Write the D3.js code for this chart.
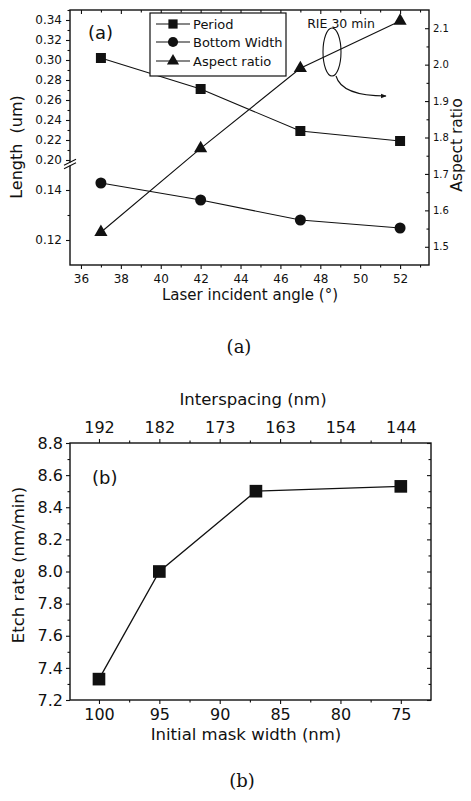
<!DOCTYPE html>
<html>
<head>
<meta charset="utf-8">
<script src="https://cdn.jsdelivr.net/npm/d3@7/dist/d3.min.js"></script>
<style>
  body { margin: 0; background: #fff; }
  svg text { font-family: "DejaVu Sans", sans-serif; fill: #111; }
  svg .caption { font-family: "DejaVu Serif", serif; }
</style>
</head>
<body>
<div id="chart"></div>
<script>
// panel (a): RIE 30 min
const angles = [37, 42, 47, 52];
const period = [0.302, 0.271, 0.229, 0.219];
const bottomWidth = [0.1428, 0.136, 0.128, 0.1248];
const aspectRatio = [1.54, 1.77, 1.99, 2.12];
const angleTicks = [36, 38, 40, 42, 44, 46, 48, 50, 52];
const lengthTicksUpper = [0.20, 0.22, 0.24, 0.26, 0.28, 0.30, 0.32, 0.34];
const lengthTicksLower = [0.12, 0.14];
const ratioTicks = [1.5, 1.6, 1.7, 1.8, 1.9, 2.0, 2.1];
const legendLabels = ["Period", "Bottom Width", "Aspect ratio"];

// panel (b)
const maskWidth = [100, 95, 87, 75];
const etchRate = [7.33, 8.0, 8.5, 8.53];
const maskTicks = [100, 95, 90, 85, 80, 75];
const spacingLabels = ["192", "182", "173", "163", "154", "144"];
const rateTicks = [7.2, 7.4, 7.6, 7.8, 8.0, 8.2, 8.4, 8.6, 8.8];

const W = 471, H = 801;
const ink = "#111";

const svg = d3.select("#chart").append("svg")
  .attr("width", W)
  .attr("height", H);

svg.append("rect").attr("width", W).attr("height", H).attr("fill", "#fff");

svg.append("defs").append("marker")
  .attr("id", "arrow")
  .attr("viewBox", "0 0 10 10")
  .attr("refX", 9).attr("refY", 5)
  .attr("markerWidth", 7).attr("markerHeight", 5)
  .attr("orient", "auto")
  .append("path").attr("d", "M0,1 L10,5 L0,9 Z").attr("fill", ink);

// midpoints between majors -> minor ticks
const mids = t => t.slice(1).map((d, i) => (d + t[i]) / 2);

// draw an axis, drop its domain path (frame drawn separately)
function drawAxis(axis, tx, ty, fontSize) {
  const g = svg.append("g")
    .attr("transform", "translate(" + tx + "," + ty + ")")
    .call(axis);
  g.select(".domain").remove();
  g.selectAll("line").attr("stroke", ink).attr("stroke-width", 1.1);
  g.selectAll("text")
    .style("font-size", fontSize + "px")
    .attr("fill", ink);
  return g;
}

// ---------------- panel (a) ----------------
const a = { left: 70, right: 429, top: 10, bottom: 265, breakY: 164 };

const xA = d3.scaleLinear().domain([35.45, 53.45]).range([a.left, a.right]);
const yUp = d3.scaleLinear().domain([0.196, 0.35]).range([a.breakY, a.top]);
const yLow = d3.scaleLinear().domain([0.11, 0.1496]).range([a.bottom, a.breakY + 2]);
const yLen = v => (v >= 0.18 ? yUp(v) : yLow(v));
const yRatio = d3.scaleLinear().domain([1.45, 2.15]).range([a.bottom, a.top]);

// bottom axis
drawAxis(d3.axisBottom(xA).tickValues(angleTicks).tickSize(4).tickPadding(5), 0, a.bottom, 12);
drawAxis(d3.axisBottom(xA).tickValues(mids(angleTicks).concat([53])).tickSize(2.5).tickFormat(""), 0, a.bottom, 12);
// top (inward ticks)
drawAxis(d3.axisTop(xA).tickValues(angleTicks).tickSize(-4).tickFormat(""), 0, a.top, 12);
drawAxis(d3.axisTop(xA).tickValues(mids(angleTicks).concat([53])).tickSize(-2.5).tickFormat(""), 0, a.top, 12);

// left broken axis
const f2 = d3.format(".2f");
drawAxis(d3.axisLeft(yUp).tickValues(lengthTicksUpper).tickSize(4).tickPadding(4).tickFormat(f2), a.left, 0, 12);
drawAxis(d3.axisLeft(yUp).tickValues(mids(lengthTicksUpper).concat([0.35])).tickSize(2.5).tickFormat(""), a.left, 0, 12);
drawAxis(d3.axisLeft(yLow).tickValues(lengthTicksLower).tickSize(4).tickPadding(4).tickFormat(f2), a.left, 0, 12);
drawAxis(d3.axisLeft(yLow).tickValues(mids(lengthTicksLower)).tickSize(2.5).tickFormat(""), a.left, 0, 12);

// right axis (inward ticks)
drawAxis(d3.axisRight(yRatio).tickValues(ratioTicks).tickSizeInner(-4).tickSizeOuter(0).tickPadding(4).tickFormat(d3.format(".1f")), a.right, 0, 10);
drawAxis(d3.axisRight(yRatio).tickValues(mids(ratioTicks)).tickSize(-2.5).tickFormat(""), a.right, 0, 10);

// frame
svg.append("rect")
  .attr("x", a.left).attr("y", a.top)
  .attr("width", a.right - a.left).attr("height", a.bottom - a.top)
  .attr("fill", "none").attr("stroke", ink).attr("stroke-width", 1.4);

// axis break
svg.append("rect").attr("x", a.left - 2).attr("y", a.breakY - 1.5).attr("width", 4).attr("height", 3).attr("fill", "#fff");
[-1.8, 1.8].forEach(o => {
  svg.append("line")
    .attr("x1", a.left - 6).attr("y1", a.breakY + o + 3)
    .attr("x2", a.left + 6).attr("y2", a.breakY + o - 3)
    .attr("stroke", ink).attr("stroke-width", 1.2);
});

// series
const lineA = (xs, ys, yf) => d3.line().x((d, i) => xA(xs[i])).y((d, i) => yf(ys[i]))(xs);
const seriesA = [
  { vals: period, y: yLen, sym: d3.symbolSquare, size: 100 },
  { vals: bottomWidth, y: yLen, sym: d3.symbolCircle, size: 95 },
  { vals: aspectRatio, y: yRatio, sym: d3.symbolTriangle, size: 75 }
];
seriesA.forEach(s => {
  svg.append("path")
    .attr("d", lineA(angles, s.vals, s.y))
    .attr("fill", "none").attr("stroke", ink).attr("stroke-width", 1.1);
  svg.selectAll(null)
    .data(s.vals)
    .enter()
    .append("path")
    .attr("transform", (d, i) => "translate(" + xA(angles[i]) + "," + s.y(d) + ")")
    .attr("d", d3.symbol().type(s.sym).size(s.size))
    .attr("fill", ink);
});

// legend
const lg = svg.append("g");
lg.append("rect")
  .attr("x", 150).attr("y", 13).attr("width", 136).attr("height", 63)
  .attr("fill", "#fff").attr("stroke", ink).attr("stroke-width", 1.2);
legendLabels.forEach((label, i) => {
  const ly = [24, 42, 61][i];
  lg.append("line").attr("x1", 156).attr("x2", 190).attr("y1", ly).attr("y2", ly)
    .attr("stroke", ink).attr("stroke-width", 1.1);
  lg.append("path")
    .attr("transform", "translate(173," + ly + ")")
    .attr("d", d3.symbol().type(seriesA[i].sym).size(seriesA[i].size * 0.85))
    .attr("fill", ink);
  lg.append("text")
    .attr("x", 193).attr("y", ly).attr("dy", "0.36em")
    .style("font-size", "13px")
    .text(label);
});

// annotation
svg.append("text").attr("x", 341).attr("y", 23).attr("dy", "0.36em")
  .attr("text-anchor", "middle").style("font-size", "12.5px").text("RIE 30 min");
svg.append("ellipse").attr("cx", 332).attr("cy", 52).attr("rx", 9).attr("ry", 24)
  .attr("fill", "none").attr("stroke", ink).attr("stroke-width", 1.1);
svg.append("path").attr("d", "M336,76 C340,90 358,96 386,96")
  .attr("fill", "none").attr("stroke", ink).attr("stroke-width", 1.1)
  .attr("marker-end", "url(#arrow)");

svg.append("text").attr("x", 88).attr("y", 39).style("font-size", "18px").text("(a)");

// axis titles
svg.append("text")
  .attr("x", 250).attr("y", 300)
  .attr("text-anchor", "middle").style("font-size", "15px")
  .text("Laser incident angle (\u00B0)");
svg.append("text")
  .attr("transform", "rotate(-90)")
  .attr("x", -147).attr("y", 22)
  .attr("text-anchor", "middle").style("font-size", "16px")
  .attr("xml:space", "preserve")
  .text("Length  (um)");
svg.append("text")
  .attr("transform", "rotate(-90)")
  .attr("x", -145).attr("y", 462)
  .attr("text-anchor", "middle").style("font-size", "15.5px")
  .text("Aspect ratio");

svg.append("text").attr("class", "caption")
  .attr("x", 239).attr("y", 353).attr("text-anchor", "middle")
  .style("font-size", "18px").text("(a)");

// ---------------- panel (b) ----------------
const b = { left: 70, right: 431, top: 443, bottom: 700 };

const xB = d3.scaleLinear().domain([102.4, 72.5]).range([b.left, b.right]);
const yB = d3.scaleLinear().domain([7.2, 8.8]).range([b.bottom, b.top]);

drawAxis(d3.axisBottom(xB).tickValues(maskTicks).tickSize(4).tickPadding(5), 0, b.bottom, 16);
drawAxis(d3.axisBottom(xB).tickValues(mids(maskTicks)).tickSize(2.5).tickFormat(""), 0, b.bottom, 16);
drawAxis(d3.axisTop(xB).tickValues(maskTicks).tickSize(4).tickPadding(6)
  .tickFormat((d, i) => spacingLabels[i]), 0, b.top, 16);
drawAxis(d3.axisTop(xB).tickValues(mids(maskTicks)).tickSize(2.5).tickFormat(""), 0, b.top, 16);
drawAxis(d3.axisLeft(yB).tickValues(rateTicks).tickSize(4).tickPadding(3).tickFormat(d3.format(".1f")), b.left, 0, 16);
drawAxis(d3.axisLeft(yB).tickValues(mids(rateTicks)).tickSize(2.5).tickFormat(""), b.left, 0, 16);
drawAxis(d3.axisRight(yB).tickValues(rateTicks).tickSize(-4).tickFormat(""), b.right, 0, 16);
drawAxis(d3.axisRight(yB).tickValues(mids(rateTicks)).tickSize(-2.5).tickFormat(""), b.right, 0, 16);

svg.append("rect")
  .attr("x", b.left).attr("y", b.top)
  .attr("width", b.right - b.left).attr("height", b.bottom - b.top)
  .attr("fill", "none").attr("stroke", ink).attr("stroke-width", 1.4);

svg.append("path")
  .attr("d", d3.line().x((d, i) => xB(maskWidth[i])).y(d => yB(d))(etchRate))
  .attr("fill", "none").attr("stroke", ink).attr("stroke-width", 1.3);
svg.selectAll(null)
  .data(etchRate)
  .enter()
  .append("path")
  .attr("transform", (d, i) => "translate(" + xB(maskWidth[i]) + "," + yB(d) + ")")
  .attr("d", d3.symbol().type(d3.symbolSquare).size(160))
  .attr("fill", ink);

svg.append("text").attr("x", 92).attr("y", 484).style("font-size", "18px").text("(b)");

svg.append("text")
  .attr("x", 246).attr("y", 740)
  .attr("text-anchor", "middle").style("font-size", "16.5px")
  .text("Initial mask width (nm)");
svg.append("text")
  .attr("x", 253).attr("y", 405)
  .attr("text-anchor", "middle").style("font-size", "16.5px")
  .text("Interspacing (nm)");
svg.append("text")
  .attr("transform", "rotate(-90)")
  .attr("x", -565).attr("y", 24)
  .attr("text-anchor", "middle").style("font-size", "16.5px")
  .text("Etch rate (nm/min)");

svg.append("text").attr("class", "caption")
  .attr("x", 242).attr("y", 787).attr("text-anchor", "middle")
  .style("font-size", "18px").text("(b)");
</script>
</body>
</html>
